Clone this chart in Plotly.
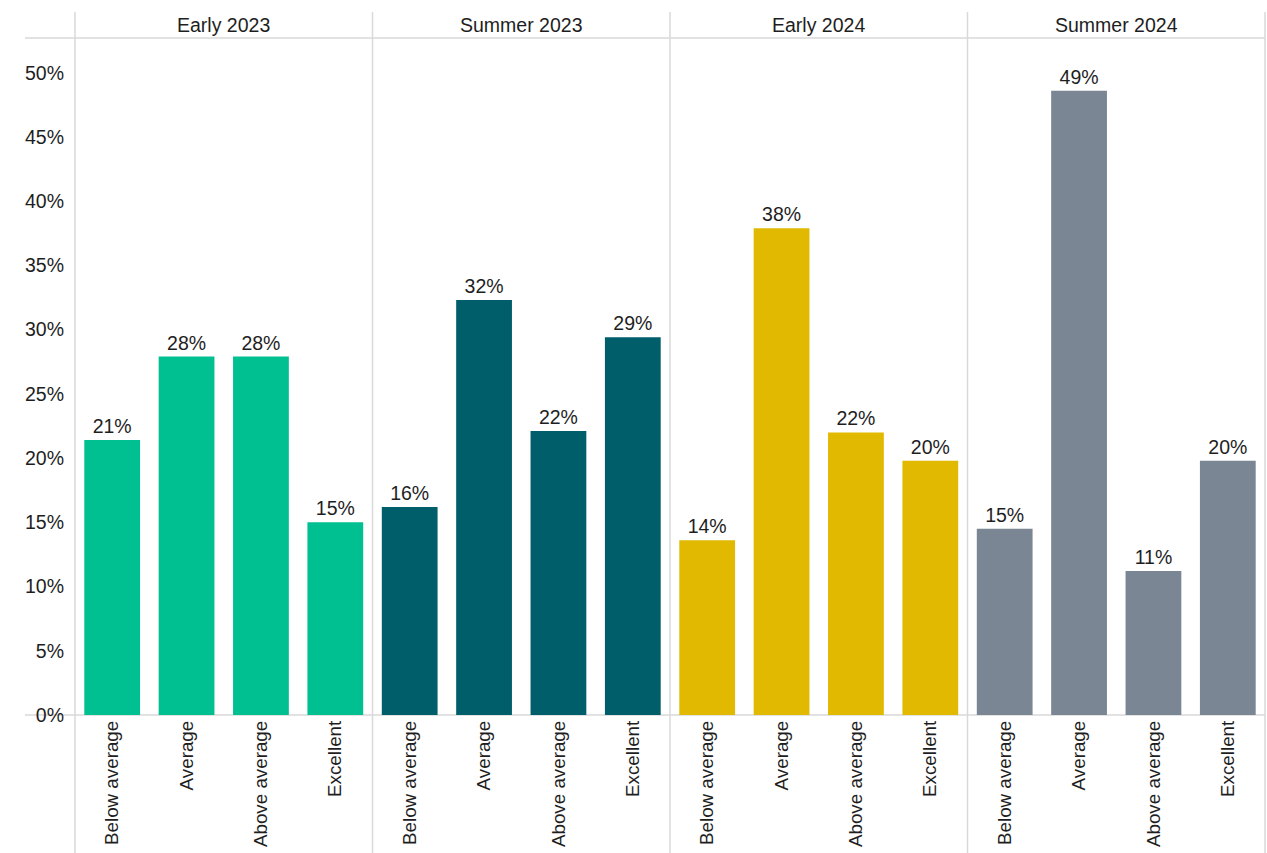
import plotly.graph_objects as go
from plotly.subplots import make_subplots

# Survey ratings by period
periods = ["Early 2023", "Summer 2023", "Early 2024", "Summer 2024"]
ratings = ["Below average", "Average", "Above average", "Excellent"]

early_2023 = [21.4, 27.9, 27.9, 15.0]
summer_2023 = [16.2, 32.3, 22.1, 29.4]
early_2024 = [13.6, 37.9, 22.0, 19.8]
summer_2024 = [14.5, 48.6, 11.2, 19.8]

series = [early_2023, summer_2023, early_2024, summer_2024]
colors = ["#00BF91", "#005E6B", "#E0B900", "#7A8693"]

y_ticks = [0, 5, 10, 15, 20, 25, 30, 35, 40, 45, 50]
y_tick_text = [f"{t}%" for t in y_ticks]

FONT = "Arial, 'Liberation Sans', sans-serif"
FS = 19.5
FS_X = 18.8
TEXT_COLOR = "#1E1E1E"
LINE_COLOR = "#D9D9D9"

W, H = 1267, 853
ML, MR, MT, MB = 75, 2, 38, 138

fig = make_subplots(rows=1, cols=4, shared_yaxes=True, horizontal_spacing=0)

for i, (vals, col) in enumerate(zip(series, colors), start=1):
    fig.add_trace(
        go.Bar(
            x=ratings,
            y=vals,
            marker=dict(color=col, line=dict(width=0)),
            text=vals,
            texttemplate="%{y:.0f}%",
            textposition="outside",
            textfont=dict(family=FONT, size=FS, color=TEXT_COLOR),
            cliponaxis=False,
            showlegend=False,
            hoverinfo="skip",
        ),
        row=1,
        col=i,
    )
    fig.update_xaxes(
        row=1,
        col=i,
        tickangle=-90,
        tickfont=dict(family=FONT, size=FS_X, color=TEXT_COLOR),
        showline=False,
        showgrid=False,
        ticks="",
        ticklabelstandoff=1,
        automargin=False,
    )

fig.update_yaxes(
    range=[0, 52.7],
    tickvals=y_ticks,
    ticktext=y_tick_text,
    showgrid=False,
    zeroline=False,
    showline=False,
    ticks="",
    ticklabelstandoff=10,
    automargin=False,
    tickfont=dict(family=FONT, size=FS, color=TEXT_COLOR),
)


def px_to_paper_y(p):
    return (H - MB - p) / (H - MT - MB)


def px_to_paper_x(p):
    return (p - ML) / (W - ML - MR)


shapes = []
# panel separators, running through the header and label strips
for k in range(5):
    xp = k / 4
    shapes.append(dict(type="line", xref="paper", yref="paper",
                       x0=xp, x1=xp, y0=px_to_paper_y(853), y1=px_to_paper_y(12),
                       line=dict(color=LINE_COLOR, width=1.5), layer="below"))
# header underline and baseline
for yp in (1.0, 0.0):
    shapes.append(dict(type="line", xref="paper", yref="paper",
                       x0=px_to_paper_x(25), x1=1.0, y0=yp, y1=yp,
                       line=dict(color=LINE_COLOR, width=1.5), layer="below"))

annotations = []
for k, name in enumerate(periods):
    annotations.append(dict(
        x=(k + 0.5) / 4, y=px_to_paper_y(25), xref="paper", yref="paper",
        text=name, showarrow=False,
        font=dict(family=FONT, size=FS, color=TEXT_COLOR),
        xanchor="center", yanchor="middle",
    ))

fig.update_layout(
    width=W,
    height=H,
    margin=dict(l=ML, r=MR, t=MT, b=MB),
    plot_bgcolor="white",
    paper_bgcolor="white",
    bargap=0.25,
    shapes=shapes,
    annotations=annotations,
    font=dict(family=FONT, color=TEXT_COLOR),
)

fig.write_html("out.html")
